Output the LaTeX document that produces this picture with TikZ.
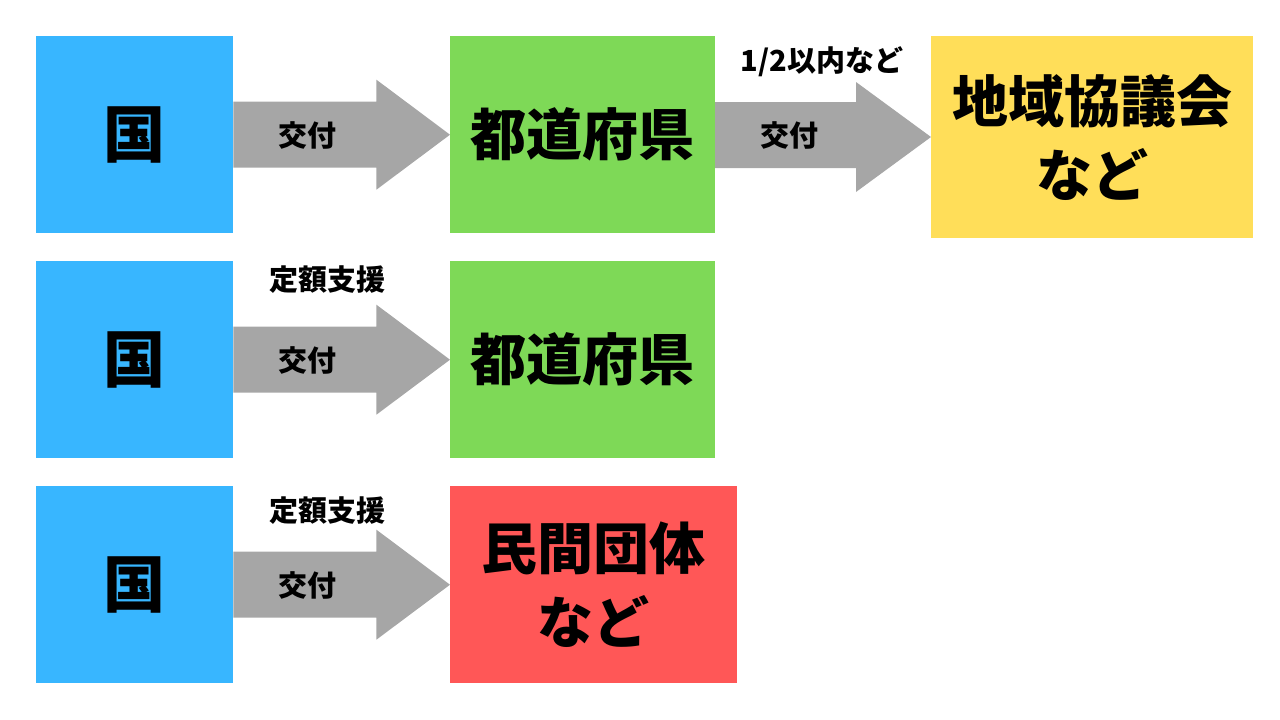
\documentclass[tikz,border=0pt]{standalone}
\usepackage{fontspec}
\newfontfamily\jp{Noto Sans CJK JP}
\usetikzlibrary{calc}
\definecolor{kuni}{HTML}{38B6FF}
\definecolor{ken}{HTML}{7ED957}
\definecolor{chiiki}{HTML}{FFDE59}
\definecolor{minkan}{HTML}{FF5757}
\definecolor{yaji}{HTML}{A6A6A6}
\tikzset{
	box/.style={anchor=north west, inner sep=0pt, font=\jp\bfseries\fontsize{56}{74}\selectfont, align=center},
	lbl/.style={font=\jp\bfseries\fontsize{29}{32}\selectfont}
}
\newcommand{\yajirushi}[2]{% from node #1 to node #2
	\fill[yaji] ($(#1.east)+(0,-33)$) -- ($(#1.east)+(143,-33)$) -- ($(#1.east)+(143,-55)$) -- (#2.west) -- ($(#1.east)+(143,55)$) -- ($(#1.east)+(143,33)$) -- ($(#1.east)+(0,33)$) -- cycle;
}

\begin{document}
\begin{tikzpicture}[x=1pt,y=-1pt]
	\useasboundingbox (0,0) rectangle (1280,720);
	
	\node[box, fill=kuni, minimum width=197pt, minimum height=197pt, font=\jp\bfseries\fontsize{62}{66}\selectfont] (k1) at (36,36) {国};
	\node[box, fill=ken, minimum width=265pt, minimum height=197pt] (t1) at (450,36) {都道府県};
	\node[box, fill=chiiki, minimum width=322pt, minimum height=202pt] (c1) at (931,36) {地域協議会\\など};
	
	\node[box, fill=kuni, minimum width=197pt, minimum height=197pt, font=\jp\bfseries\fontsize{62}{66}\selectfont] (k2) at (36,261) {国};
	\node[box, fill=ken, minimum width=265pt, minimum height=197pt] (t2) at (450,261) {都道府県};
	
	\node[box, fill=kuni, minimum width=197pt, minimum height=197pt, font=\jp\bfseries\fontsize{62}{66}\selectfont] (k3) at (36,486) {国};
	\node[box, fill=minkan, minimum width=287pt, minimum height=197pt] (m3) at (450,486) {民間団体\\など};
	
	\yajirushi{k1}{t1}
	\fill[yaji] (715,102) -- (856,102) -- (856,82) -- (931,137) -- (856,192) -- (856,168) -- (715,168) -- cycle;
	\yajirushi{k2}{t2}
	\yajirushi{k3}{m3}
	
	\node[lbl] (a1) at (307,135) {交付};
	\node[lbl] (a2) at (789,135) {交付};
	\node[lbl] (n2) at (822,62) {1/2以内など};
	\node[lbl] (a3) at (307,360) {交付};
	\node[lbl] (s3) at (327,280) {定額支援};
	\node[lbl] (a4) at (307,585) {交付};
	\node[lbl] (s4) at (327,511) {定額支援};
\end{tikzpicture}
\end{document}
